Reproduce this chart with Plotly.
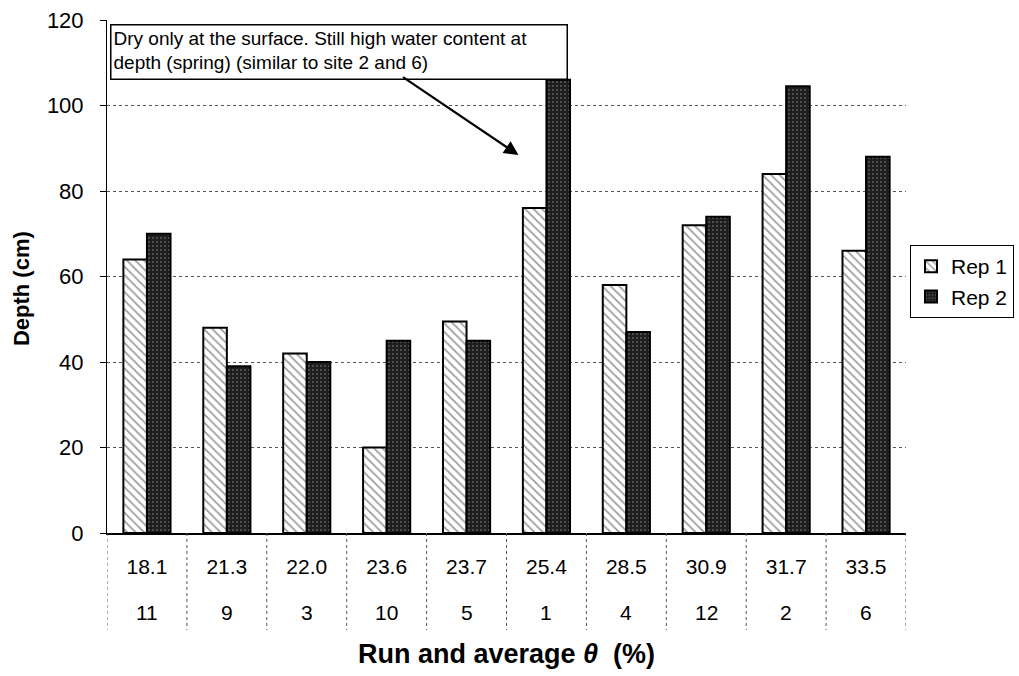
import plotly.graph_objects as go

# ---- data ----
theta = ["18.1", "21.3", "22.0", "23.6", "23.7", "25.4", "28.5", "30.9", "31.7", "33.5"]
runs = ["11", "9", "3", "10", "5", "1", "4", "12", "2", "6"]
rep1 = [64, 48, 42, 20, 49.5, 76, 58, 72, 84, 66]
rep2 = [70, 39, 40, 45, 45, 106, 47, 74, 104.5, 88]

note_text = ("Dry only at the surface. Still high water content at<br>"
             "depth (spring) (similar to site 2 and 6)")

FONT = "Liberation Sans, Arial, sans-serif"

fig = go.Figure()
fig.add_trace(go.Bar(
    name="Rep 1", x=theta, y=rep1,
    marker=dict(color="white", line=dict(color="black", width=2),
                pattern=dict(shape="\\", fgcolor="#3a3a3a", bgcolor="white",
                             size=6, solidity=0.3)),
))
fig.add_trace(go.Bar(
    name="Rep 2", x=theta, y=rep2,
    marker=dict(color="#2a2a2a", line=dict(color="black", width=2),
                pattern=dict(shape=".", fgcolor="#9a9a9a", bgcolor="#1e1e1e",
                             size=4, solidity=0.2)),
))

fig.update_layout(
    width=1019, height=676,
    margin=dict(l=107, r=113, t=20, b=143, autoexpand=False),
    paper_bgcolor="white", plot_bgcolor="white",
    barmode="group", bargap=0.41, bargroupgap=0,
    font=dict(family=FONT, color="black", size=21),
    showlegend=True,
    legend=dict(x=1.005, y=0.49, xanchor="left", yanchor="middle",
                bordercolor="black", borderwidth=1, bgcolor="white",
                font=dict(size=21, family=FONT), tracegroupgap=0,
                itemwidth=30),
)

fig.update_yaxes(
    range=[0, 120], dtick=20, tick0=0,
    showgrid=True, gridcolor="#555555", griddash="dot", gridwidth=1,
    showline=True, linecolor="black", linewidth=1,
    ticks="outside", ticklen=6, tickcolor="black",
    ticklabelstandoff=12,
    tickfont=dict(size=22, family=FONT),
    zeroline=False,
)

fig.update_xaxes(
    type="category", range=[-0.5, len(theta) - 0.5],
    showline=True, linecolor="black", linewidth=1.5,
    ticks="", ticklabelstandoff=14,
    tickfont=dict(size=21, family=FONT),
    showgrid=False,
    title=dict(text="<b>Run and average <i>\u03b8</i>\u00a0\u00a0(%)</b>",
               font=dict(size=27, family=FONT), standoff=67),
)

# y axis title
fig.add_annotation(xref="paper", yref="paper", x=-0.106, y=0.476,
                   text="<b>Depth (cm)</b>", textangle=-90, showarrow=False,
                   xanchor="center", yanchor="middle",
                   font=dict(size=22, family=FONT, color="black"))

# second row of category labels (run numbers)
for i, r in enumerate(runs):
    fig.add_annotation(xref="x", yref="paper", x=i, y=-0.154,
                       text=r, showarrow=False, yanchor="middle",
                       font=dict(size=21, family=FONT, color="black"))

# category dividers
for i in range(len(theta) + 1):
    fig.add_shape(type="line", xref="x", yref="paper",
                  x0=i - 0.5, x1=i - 0.5, y0=0, y1=-0.189,
                  line=dict(color="#555555", width=1, dash="dot"))

# text box
fig.add_annotation(
    xref="paper", yref="paper", x=0.004, y=0.992,
    xanchor="left", yanchor="top",
    text=note_text, showarrow=False, align="left", valign="top",
    font=dict(size=19, family=FONT, color="black"),
    bordercolor="black", borderwidth=1.5, borderpad=2, bgcolor="white",
    width=451, height=49,
)
# arrow
fig.add_annotation(
    xref="paper", yref="y", x=0.515, y=88.4,
    text="", showarrow=True, axref="pixel", ayref="pixel",
    ax=-117, ay=-79,
    arrowhead=2, arrowsize=1.3, arrowwidth=2.2, arrowcolor="black",
)

fig.write_html("out.html")
